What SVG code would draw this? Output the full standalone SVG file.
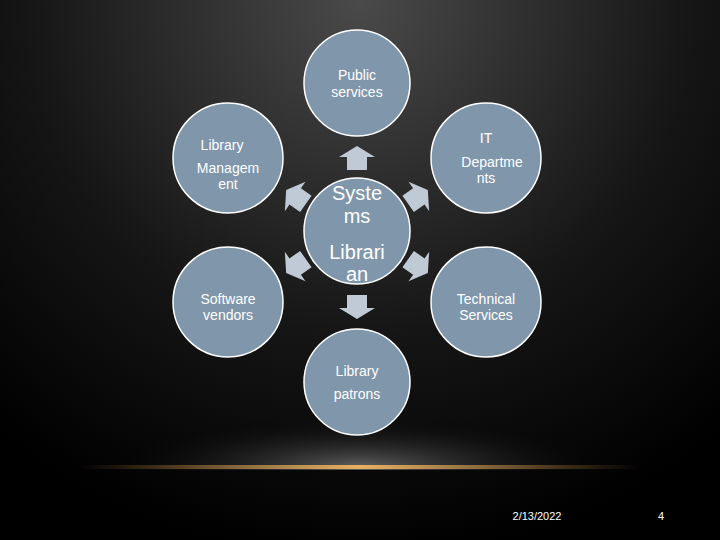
<svg xmlns="http://www.w3.org/2000/svg" width="720" height="540" viewBox="0 0 720 540">
<defs>
<radialGradient id="bg" cx="360" cy="0" r="560" gradientUnits="userSpaceOnUse">
<stop offset="0" stop-color="#4a4a4a"/><stop offset="0.6" stop-color="#151515"/><stop offset="1" stop-color="#000"/>
</radialGradient>
<radialGradient id="glow" cx="360" cy="467" r="260" gradientTransform="translate(0,373.6) scale(1,0.2)" gradientUnits="userSpaceOnUse">
<stop offset="0" stop-color="#606060"/><stop offset="1" stop-color="#000" stop-opacity="0"/>
</radialGradient>
<linearGradient id="line" x1="0" x2="1">
<stop offset="0" stop-color="#c98a3a" stop-opacity="0"/><stop offset="0.5" stop-color="#e8b060"/><stop offset="1" stop-color="#c98a3a" stop-opacity="0"/>
</linearGradient>
<polygon id="arr" points="-18,-1 0,-12 18,-1 10,-1 10,12 -10,12 -10,-1"/>
</defs>
<style>
circle{fill:#7f96ab;stroke:#fff;stroke-width:1.5}
text{font-family:"Liberation Sans",Arial,sans-serif;fill:#fff;text-anchor:middle;font-size:14px}
.big{font-size:20px}
.a{fill:#c0cad6}
</style>
<rect width="720" height="540" fill="url(#bg)"/>
<rect x="0" y="400" width="720" height="70" fill="url(#glow)"/>
<rect x="80" y="465" width="560" height="4" fill="url(#line)"/>
<g id="connectors">
<use href="#arr" class="a" transform="translate(357,158)"/>
<use href="#arr" class="a" transform="translate(357,307) rotate(180)"/>
<use href="#arr" class="a" transform="translate(296,197) rotate(-55)"/>
<use href="#arr" class="a" transform="translate(296,266) rotate(-125)"/>
<use href="#arr" class="a" transform="translate(418,197) rotate(55)"/>
<use href="#arr" class="a" transform="translate(418,266) rotate(125)"/>
</g>
<g id="center"><circle cx="357" cy="231" r="53"/>
<text class="big" x="357" y="200">Syste</text><text class="big" x="357" y="223">ms</text>
<text class="big" x="357" y="259">Librari</text><text class="big" x="357" y="281">an</text></g>
<g id="public"><circle cx="357" cy="83" r="53"/>
<text x="357" y="80">Public</text><text x="357" y="97">services</text></g>
<g id="libmgmt"><circle cx="228" cy="158" r="55"/>
<text x="222" y="150">Library</text><text x="228" y="173">Managem</text><text x="228" y="189">ent</text></g>
<g id="it"><circle cx="486" cy="158" r="55"/>
<text x="486" y="143">IT</text><text x="492" y="167">Departme</text><text x="486" y="183">nts</text></g>
<g id="software"><circle cx="228" cy="302" r="55"/>
<text x="228" y="304">Software</text><text x="228" y="320">vendors</text></g>
<g id="technical"><circle cx="486" cy="302" r="55"/>
<text x="486" y="304">Technical</text><text x="486" y="320">Services</text></g>
<g id="patrons"><circle cx="357" cy="382" r="53"/>
<text x="357" y="376">Library</text><text x="357" y="399">patrons</text></g>
<text x="537" y="520" style="font-size:11px">2/13/2022</text>
<text x="661" y="520" style="font-size:11px">4</text>
</svg>
